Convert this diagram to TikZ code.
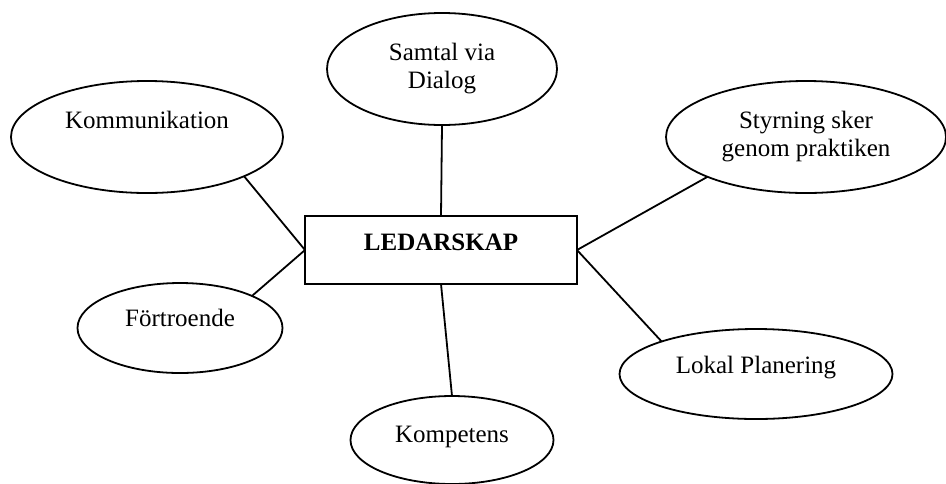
\documentclass[tikz,border=0pt]{standalone}
\usepackage{fontspec}
\setmainfont{Liberation Serif}
\usetikzlibrary{shapes.geometric}

\begin{document}
\begin{tikzpicture}[x=0.5pt, y=-0.5pt, line width=0.9pt,
    font=\fontsize{12.5}{14}\selectfont,
    bubble/.style={draw, ellipse, inner sep=0pt, outer sep=0pt, align=center},
    hub/.style={draw, rectangle, inner sep=0pt, outer sep=0pt}]
  \useasboundingbox (0,0) rectangle (946,483);
  % centre box
  \node[hub, minimum width=136pt, minimum height=34pt,
        label={[yshift=3.75pt]center:\textbf{LEDARSKAP}}] (led) at (441,250) {};
  % surrounding ellipses
  \node[bubble, minimum width=115pt, minimum height=56pt] (samtal) at (442,69) {Samtal via\\Dialog};
  \node[bubble, minimum width=136pt, minimum height=56pt,
        label={[yshift=8.5pt]center:Kommunikation}] (komm) at (147,137) {};
  \node[bubble, minimum width=140pt, minimum height=56pt] (styr) at (806,137) {Styrning sker\\genom praktiken};
  \node[bubble, minimum width=102.5pt, minimum height=45pt,
        label={[yshift=5pt]center:Förtroende}] (fort) at (180,328) {};
  \node[bubble, minimum width=136.5pt, minimum height=45pt,
        label={[yshift=3pt]center:Lokal Planering}] (lokal) at (756,374) {};
  \node[bubble, minimum width=101.5pt, minimum height=44pt,
        label={[yshift=1.5pt]center:Kompetens}] (komp) at (452,440) {};
  % spokes
  \draw (samtal.south) -- (led.north);
  \draw (komm.-22) -- (led.west);
  \draw (fort.24) -- (led.west);
  \draw (styr.-158) -- (led.east);
  \draw (lokal.161) -- (led.east);
  \draw (led.south) -- (komp.north);
\end{tikzpicture}
\end{document}
